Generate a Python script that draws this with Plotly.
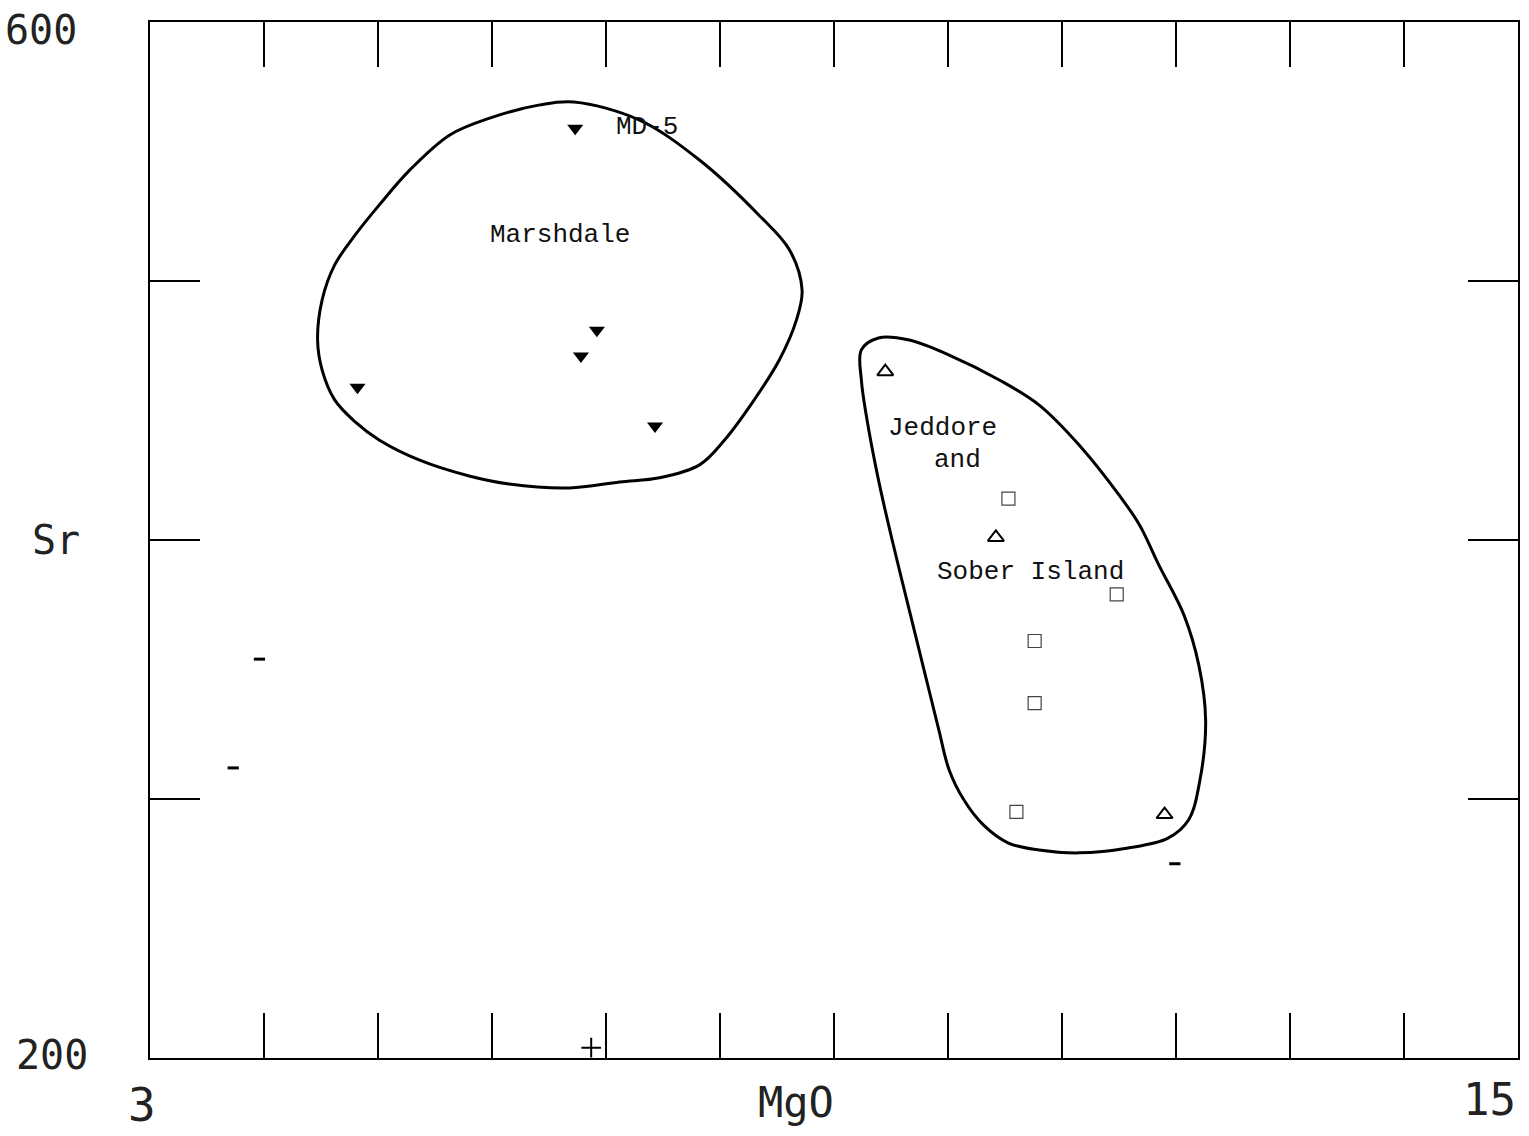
import plotly.graph_objects as go

# ---- data (MgO wt%, Sr ppm) ----
marshdale_mgo = [6.73, 6.92, 6.78, 4.82, 7.43]
marshdale_sr = [559, 481, 471, 459, 444]

jeddore_mgo = [9.45, 10.42, 11.90]
jeddore_sr = [465, 401, 294]

sober_mgo = [10.53, 11.48, 10.76, 10.76, 10.60]
sober_sr = [416, 379, 361, 337, 295]

other_mgo = [3.96, 3.73, 11.99]
other_sr = [354, 312, 275]
cross_mgo = [6.87]
cross_sr = [204]

# field outlines (hand-drawn envelopes)
marsh_env_x = [6.72, 7.29, 7.82, 8.34, 8.61, 8.72, 8.67, 8.52, 8.30, 8.04, 7.82, 7.47, 7.12, 6.68,
               6.15, 5.80, 5.36, 5.01, 4.80, 4.62, 4.51, 4.47, 4.51, 4.62, 4.80, 5.01, 5.28, 5.63,
               5.98, 6.42, 6.72]
marsh_env_y = [569.1, 562.2, 546.7, 525.5, 512.0, 496.5, 484.9, 469.5, 454.1, 438.6, 429.0, 424.0,
               422.4, 420.1, 421.6, 424.7, 430.9, 438.6, 445.6, 454.1, 465.6, 477.2, 492.7, 506.2,
               517.8, 529.3, 542.9, 556.4, 562.9, 568.0, 569.1]

jed_env_x = [9.24, 9.39, 9.66, 10.01, 10.45, 10.80, 11.15, 11.50, 11.68, 11.85, 12.07, 12.20, 12.26,
             12.21, 12.11, 11.93, 11.58, 11.15, 10.80, 10.53, 10.31, 10.14, 10.01, 9.92, 9.79, 9.66,
             9.51, 9.39, 9.29, 9.24, 9.24]
jed_env_y = [473.4, 478.0, 477.2, 471.4, 461.8, 452.1, 436.7, 417.4, 405.8, 390.3, 371.0, 351.7,
             330.5, 307.3, 291.9, 284.9, 281.1, 279.2, 280.3, 283.0, 290.0, 299.6, 311.2, 326.6,
             349.8, 373.0, 400.0, 423.2, 446.3, 461.8, 473.4]

x_ticks = [4, 5, 6, 7, 8, 9, 10, 11, 12, 13, 14]
y_ticks = [300, 400, 500]

fig = go.Figure()

fig.add_trace(go.Scatter(x=marsh_env_x, y=marsh_env_y, mode="lines",
                         line=dict(color="black", width=3, shape="spline", smoothing=1.0),
                         hoverinfo="skip", showlegend=False))
fig.add_trace(go.Scatter(x=jed_env_x, y=jed_env_y, mode="lines",
                         line=dict(color="black", width=3, shape="spline", smoothing=1.0),
                         hoverinfo="skip", showlegend=False))

fig.add_trace(go.Scatter(x=marshdale_mgo, y=marshdale_sr, mode="markers", name="Marshdale",
                         marker=dict(symbol="triangle-down", size=14, color="black"),
                         showlegend=False))
fig.add_trace(go.Scatter(x=jeddore_mgo, y=jeddore_sr, mode="markers", name="Jeddore",
                         marker=dict(symbol="triangle-up-open", size=14, color="black",
                                     line=dict(width=2)),
                         showlegend=False))
fig.add_trace(go.Scatter(x=sober_mgo, y=sober_sr, mode="markers", name="Sober Island",
                         marker=dict(symbol="square-open", size=13, color="#444444",
                                     line=dict(width=1.2)),
                         showlegend=False))
fig.add_trace(go.Scatter(x=other_mgo, y=other_sr, mode="markers", name="other",
                         marker=dict(symbol="line-ew", size=8, color="black",
                                     line=dict(width=3, color="black")),
                         showlegend=False))
fig.add_trace(go.Scatter(x=cross_mgo, y=cross_sr, mode="markers", name="other2",
                         marker=dict(symbol="cross-thin", size=14, color="black",
                                     line=dict(width=2, color="black")),
                         showlegend=False))

mono = "Liberation Mono, Courier New, monospace"
text_notes = [
    ("MD-5", 7.36, 559.5),
    ("Marshdale", 6.60, 517.8),
    ("Jeddore", 9.95, 443.2),
    ("and", 10.08, 430.9),
    ("Sober Island", 10.72, 387.6),
]
for t, x, y in text_notes:
    fig.add_annotation(x=x, y=y, xref="x", yref="y", text=t, showarrow=False,
                       font=dict(family=mono, size=26, color="#111111"))

axis_font = "DejaVu Sans Mono, monospace"
axis_labels = [
    ("600", -0.0796, 0.992, 40, "center"),
    ("Sr", -0.069, 0.50, 40, "center"),
    ("200", -0.0715, 0.003, 40, "center"),
    ("3", -0.006, -0.045, 46, "center"),
    ("MgO", 0.472, -0.0434, 42, "center"),
    ("15", 1.0, -0.0405, 44, "right"),
]
for t, x, y, s, xa in axis_labels:
    fig.add_annotation(x=x, y=y, xref="paper", yref="paper", text=t, showarrow=False,
                       xanchor=xa, yanchor="middle",
                       font=dict(family=axis_font, size=s, color="#222222"))

fig.update_xaxes(range=[3, 15], showgrid=False, zeroline=False, showline=True,
                 linecolor="black", linewidth=2, mirror="ticks", ticks="inside",
                 ticklen=45, tickwidth=1.5, tickcolor="black", tickvals=x_ticks,
                 showticklabels=False)
fig.update_yaxes(range=[200, 600], showgrid=False, zeroline=False, showline=True,
                 linecolor="black", linewidth=2, mirror="ticks", ticks="inside",
                 ticklen=50, tickwidth=2, tickcolor="black", tickvals=y_ticks,
                 showticklabels=False)

fig.update_layout(width=1529, height=1136, plot_bgcolor="white", paper_bgcolor="white",
                  margin=dict(l=150, r=9, t=22, b=78), showlegend=False)

fig.write_html("out.html")
